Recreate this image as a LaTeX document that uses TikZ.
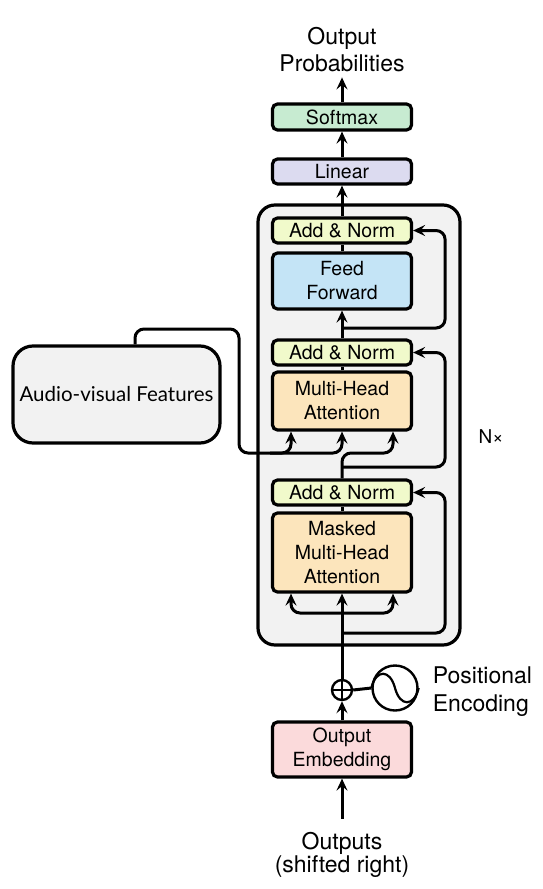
\documentclass[tikz,border=0pt]{standalone}
\usepackage{fontspec}
\setmainfont{TeX Gyre Heros}
\newfontfamily\avfont{Lato}
\usetikzlibrary{arrows.meta,positioning,calc}

\definecolor{smc}{RGB}{199,235,209}
\definecolor{linc}{RGB}{220,219,240}
\definecolor{anc}{RGB}{241,250,203}
\definecolor{ffc}{RGB}{196,228,246}
\definecolor{mhc}{RGB}{252,229,188}
\definecolor{embc}{RGB}{251,218,219}
\definecolor{blkc}{RGB}{242,242,242}

\tikzset{
  blk/.style={draw, line width=3.2pt, rounded corners=5pt, minimum width=139pt,
    inner sep=0pt, align=center, font=\fontsize{19.5}{24}\selectfont},
  lbl/.style={align=center, inner sep=0pt, font=\fontsize{23}{27}\selectfont},
  wire/.style={line width=3pt},
  arr/.style={wire, -{Stealth[length=12pt,width=11pt,inset=4.5pt]}},
}

\begin{document}
\begin{tikzpicture}[x=1pt, y=-1pt]
  \useasboundingbox (0,0) rectangle (542,889);

  % decoder block
  \node [draw, line width=3.2pt, fill=blkc, rounded corners=17pt,
    minimum width=202pt, minimum height=440pt](dec) at (359,425) {};
  \node [font=\fontsize{19}{24}\selectfont](nx) at (491,437) {N×};

  % boxes, top to bottom
  \node [blk, fill=smc, minimum height=26pt](sm) at (342,117) {Softmax};
  \node [blk, fill=linc, minimum height=25pt](lin) at (342,171.5) {Linear};
  \node [blk, fill=anc, minimum height=25pt](an3) at (342,230.5) {Add \& Norm};
  \node [blk, fill=ffc, minimum height=56pt](ff) at (342,281) {Feed\\Forward};
  \node [blk, fill=anc, minimum height=25pt](an2) at (342,352.5) {Add \& Norm};
  \node [blk, fill=mhc, minimum height=58pt](mha) at (342,401) {Multi-Head\\Attention};
  \node [blk, fill=anc, minimum height=25pt](an1) at (342,492.5) {Add \& Norm};
  \node [blk, fill=mhc, minimum height=79pt](mmha) at (342,552.5) {Masked\\Multi-Head\\Attention};
  \node [blk, fill=embc, minimum height=55pt](emb) at (342,749.5) {Output\\Embedding};

  % positional encoding
  \node [circle, draw, line width=2.4pt, minimum size=20pt, inner sep=0pt](plus) at (342,690) {};
  \draw [line width=2.2pt] (plus.north) -- (plus.south) (plus.west) -- (plus.east);
  \node [circle, draw, line width=2.4pt, minimum size=45pt, inner sep=0pt](pe) at (395,688) {};
  \draw [line width=2.2pt] (pe.west) .. controls ($(pe.center)+(-19,-19)$) and ($(pe.center)+(-5,-19)$) .. (pe.center)
    .. controls ($(pe.center)+(5,19)$) and ($(pe.center)+(19,19)$) .. (pe.east);
  \node [lbl, align=left, font=\fontsize{23}{28}\selectfont, yshift=-4pt, right = 14pt of pe](pet) {Positional\\Encoding};

  % labels
  \node [lbl, inner ysep=5pt, above = 25pt of sm](prob) {Output\\Probabilities};
  \node [lbl, font=\fontsize{23}{23}\selectfont, below = 53.5pt of emb](outs) {Outputs\\(shifted right)};
  \coordinate (in) at ($(outs.north)+(0,-13.5)$);

  % audio-visual features
  \node [draw, line width=3.2pt, fill=blkc, rounded corners=20pt, minimum width=207pt,
    minimum height=97pt, font=\avfont\fontsize{20.5}{24}\selectfont](av) at (116.5,394.5) {Audio-visual Features};

  % main column
  \draw [arr] (in) -- (emb.south);
  \draw [arr] (emb.north) -- (plus.south);
  \draw [wire] (plus.east) -- (pe.west);
  \draw [arr] (plus.north) -- (mmha.south);
  \draw [wire] (mmha.north) -- (an1.south);
  \draw [wire] (mha.north) -- (an2.south);
  \draw [arr] (an2.north) -- (ff.south);
  \draw [wire] (ff.north) -- (an3.south);
  \draw [arr] (an3.north) -- (lin.south);
  \draw [arr] (lin.north) -- (sm.south);
  \draw [arr] (sm.north) -- (prob.south);

  % branch points
  \coordinate (b1) at (342,613);
  \coordinate (r1) at (342,633);
  \coordinate (r2) at (342,467);
  \coordinate (r3) at (342,328);
  \coordinate (q) at (393,453);
  \coordinate (k) at (239,329);
  \coordinate (v) at (342,453);
  \coordinate (w) at (270,453);

  \begin{scope}[rounded corners=9pt]
    % masked self-attention inputs
    \draw [arr] (b1) -| ($(mmha.south)+(-51,0)$);
    \draw [arr] (b1) -| ($(mmha.south)+(51,0)$);
    % residuals
    \draw [arr] (r1) -| ($(an1.east)+(32,0)$) -- (an1.east);
    \draw [arr] (r2) -| ($(an2.east)+(32,0)$) -- (an2.east);
    \draw [arr] (r3) -| ($(an3.east)+(32,0)$) -- (an3.east);
    % cross attention
    \draw [arr] (an1.north) |- (q) -- (mha.south -| q);
    \draw [arr] ($(av.north)+(18.5,0)$) |- (k) |- (v) -- (mha.south -| v);
    \draw [arr] (w) -| ($(mha.south)+(-51,0)$);
  \end{scope}
\end{tikzpicture}
\end{document}
